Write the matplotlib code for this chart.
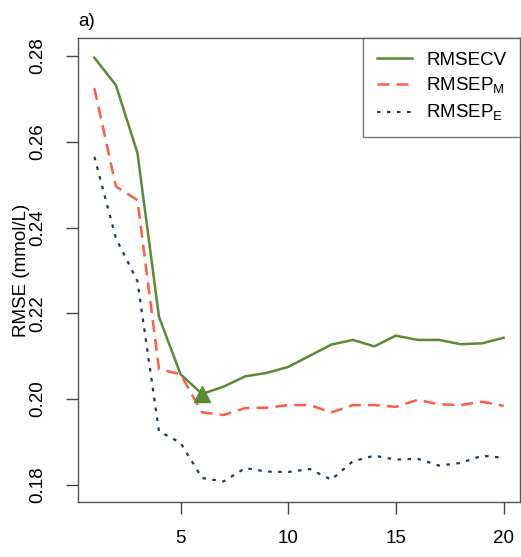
import matplotlib
matplotlib.use("Agg")
import matplotlib.pyplot as plt

plt.rcParams['font.family'] = ['Liberation Sans', 'DejaVu Sans']

# number of components
ncomp = list(range(1, 21))

# RMSECV (green, solid)
rmsecv = [0.2796, 0.2732, 0.2574, 0.2192, 0.2058, 0.2012, 0.2029, 0.2053, 0.2061, 0.2075,
          0.2101, 0.2127, 0.2138, 0.2123, 0.2148, 0.2138, 0.2138, 0.2128, 0.2130, 0.2143]
# RMSEP_M (red, dashed)
rmsep_m = [0.2725, 0.2496, 0.2464, 0.2070, 0.2058, 0.1969, 0.1963, 0.1979, 0.1980, 0.1986,
           0.1986, 0.1969, 0.1986, 0.1986, 0.1982, 0.1998, 0.1988, 0.1986, 0.1994, 0.1984]
# RMSEP_E (blue, dotted)
rmsep_e = [0.2565, 0.2375, 0.2275, 0.1925, 0.1898, 0.1816, 0.1808, 0.1839, 0.1831, 0.1830,
           0.1837, 0.1812, 0.1855, 0.1868, 0.1859, 0.1861, 0.1845, 0.1851, 0.1868, 0.1863]

# chosen number of components
best = 6

green = '#5b8a36'
red = '#ff5c45'
blue = '#1e3a5c'
fs = 13.5

fig = plt.figure(figsize=(5.21, 5.57), dpi=100)
ax = fig.add_axes([0.1497, 0.0987, 0.8483, 0.8331])

ax.plot(ncomp, rmsecv, color=green, lw=1.8, label='RMSECV')
ax.plot(ncomp, rmsep_m, color=red, lw=1.8, ls=(0, (4.8, 2.8)), label='RMSEP$_\\mathregular{M}$')
ax.plot(ncomp, rmsep_e, color=blue, lw=1.6, ls=(0, (1.6, 2.9)), label='RMSEP$_\\mathregular{E}$')
ax.plot([best], [rmsecv[best - 1]], marker='^', color=green, ms=12, ls='none')

ax.set_xlim(0.24, 20.76)
ax.set_ylim(0.176, 0.2842)
ax.set_xticks([5, 10, 15, 20])
ax.set_yticks([0.18, 0.20, 0.22, 0.24, 0.26, 0.28])
ax.set_yticklabels(['0.18', '0.20', '0.22', '0.24', '0.26', '0.28'], rotation=90, va='center')
ax.tick_params(labelsize=fs, length=8.5, width=1, color='#444444')
ax.tick_params(axis='x', pad=12)
ax.tick_params(axis='y', pad=14)
for s in ax.spines.values():
    s.set_color('#555555')
    s.set_linewidth(1)

ax.set_ylabel('RMSE (mmol/L)', fontsize=fs, labelpad=0)
ax.text(0.0, 1.017, 'a)', transform=ax.transAxes, fontsize=fs, ha='left', va='bottom')

leg = ax.legend(loc='upper right', bbox_to_anchor=(1.0, 1.0), borderaxespad=0,
                fancybox=False, edgecolor='#555555', fontsize=fs, handlelength=1.9,
                handletextpad=0.75, labelspacing=0.38, borderpad=0.72)
leg.get_frame().set_linewidth(1)

fig.savefig('out.png', dpi=100)
